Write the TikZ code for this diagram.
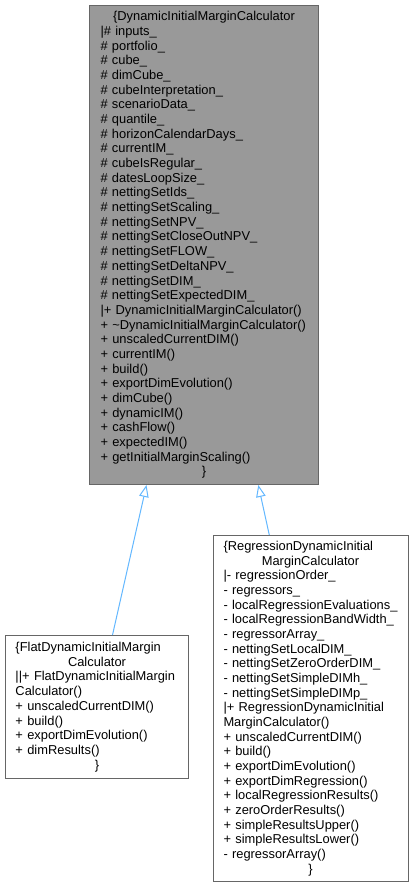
\documentclass[tikz,border=0pt]{standalone}
\usepackage{fontspec}
\setmainfont{Liberation Sans}
\usetikzlibrary{arrows.meta}
\definecolor{boxline}{HTML}{666666}
\definecolor{basefill}{HTML}{999999}
\definecolor{edgeblue}{HTML}{63B8FF}
\newcommand\ctrline[1]{\hspace*{\fill}#1\hspace*{\fill}\mbox{}}
\begin{document}
\hyphenpenalty=10000
\exhyphenpenalty=10000
\begin{tikzpicture}[x=1pt,y=-1pt,
  cls/.style={draw=boxline, line width=1pt, anchor=north west, align=left,
    inner xsep=9pt, inner ysep=0pt,
    font=\fontsize{12.88}{14.68}\selectfont},
  baseclass/.style={cls, fill=basefill},
  inh/.style={draw=edgeblue, line width=1pt, -{Triangle[open, length=12pt, width=9.5pt]}}]
\useasboundingbox[fill=white] (0,0) rectangle (413,887);

\node[baseclass, inner xsep=11pt, text width=207pt, minimum height=479pt] (base) at (89,5) {%
\ctrline{\{DynamicInitialMarginCalculator}\\
|\#~inputs\_\\
\#~portfolio\_\\
\#~cube\_\\
\#~dimCube\_\\
\#~cubeInterpretation\_\\
\#~scenarioData\_\\
\#~quantile\_\\
\#~horizonCalendarDays\_\\
\#~currentIM\_\\
\#~cubeIsRegular\_\\
\#~datesLoopSize\_\\
\#~nettingSetIds\_\\
\#~nettingSetScaling\_\\
\#~nettingSetNPV\_\\
\#~nettingSetCloseOutNPV\_\\
\#~nettingSetFLOW\_\\
\#~nettingSetDeltaNPV\_\\
\#~nettingSetDIM\_\\
\#~nettingSetExpectedDIM\_\\
|+~\mbox{DynamicInitialMarginCalculator()}\\
+~\mbox{\textasciitilde DynamicInitialMarginCalculator()}\\
+~unscaledCurrentDIM()\\
+~currentIM()\\
+~build()\\
+~exportDimEvolution()\\
+~dimCube()\\
+~dynamicIM()\\
+~cashFlow()\\
+~expectedIM()\\
+~getInitialMarginScaling()\\
\ctrline{\}}};

\node[cls, fill=white, inner xsep=10pt, text width=163pt, minimum height=143pt] (flat) at (5,635) {%
\{FlatDynamicInitialMargin\\
\ctrline{Calculator}\\
||+~\mbox{FlatDynamicInitialMargin}\\
Calculator()\\
+~unscaledCurrentDIM()\\
+~build()\\
+~exportDimEvolution()\\
+~dimResults()\\
\ctrline{\}}};

\node[cls, fill=white, inner xsep=10.5pt, text width=174pt, minimum height=346pt] (regr) at (212.5,535) {%
\{RegressionDynamicInitial\\
\ctrline{MarginCalculator}\\
|-~regressionOrder\_\\
-~regressors\_\\
-~\mbox{localRegressionEvaluations\_}\\
-~\mbox{localRegressionBandWidth\_}\\
-~regressorArray\_\\
-~nettingSetLocalDIM\_\\
-~nettingSetZeroOrderDIM\_\\
-~nettingSetSimpleDIMh\_\\
-~nettingSetSimpleDIMp\_\\
|+~\mbox{RegressionDynamicInitial}\\
MarginCalculator()\\
+~unscaledCurrentDIM()\\
+~build()\\
+~exportDimEvolution()\\
+~exportDimRegression()\\
+~localRegressionResults()\\
+~zeroOrderResults()\\
+~simpleResultsUpper()\\
+~simpleResultsLower()\\
-~regressorArray()\\
\ctrline{\}}};

\draw[inh] ([xshift=107.5pt]flat.north west) -- ([xshift=57.5pt]base.south west);
\draw[inh] ([xshift=56.8pt]regr.north west) -- ([xshift=169.3pt]base.south west);
\end{tikzpicture}
\end{document}
